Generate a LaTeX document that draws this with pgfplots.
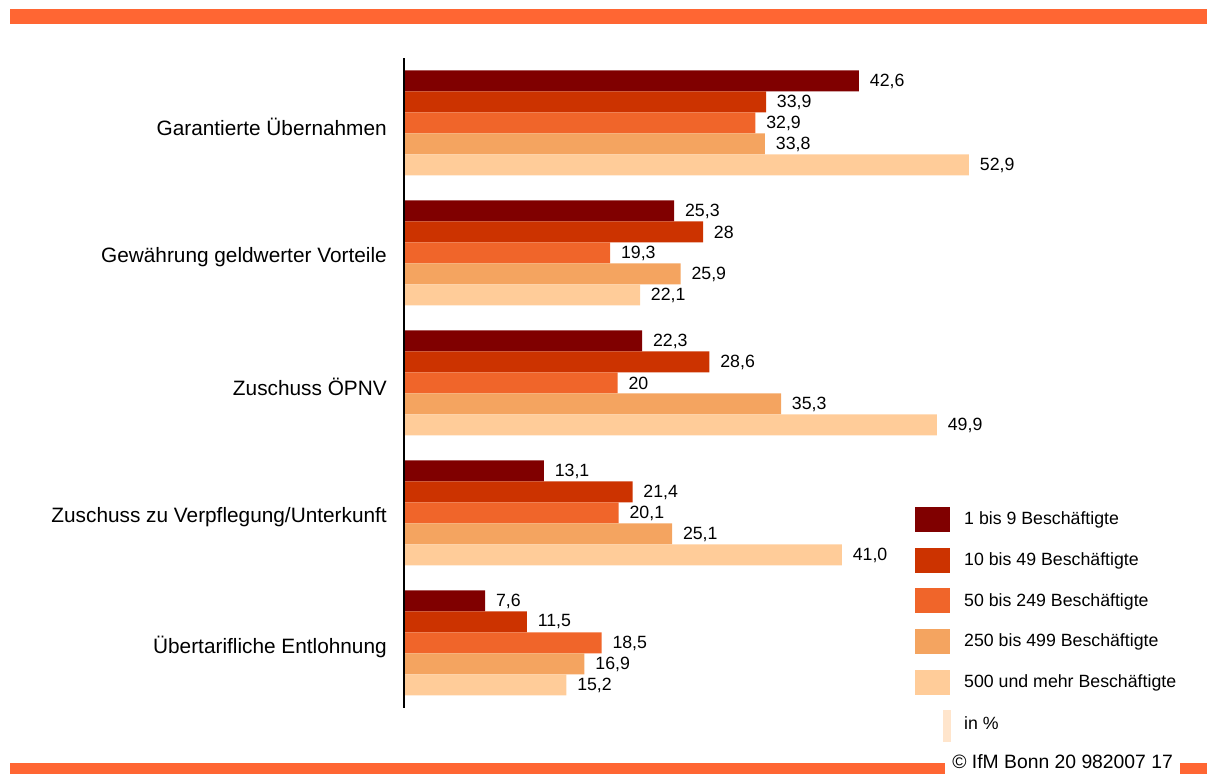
\documentclass[border=0pt]{standalone}
\usepackage{pgfplots}
\pgfplotsset{compat=1.18}
\usepackage{pgfplotstable}
\usepackage{fontspec}
\setmainfont{Liberation Sans}
\definecolor{cA}{HTML}{800000}
\definecolor{cB}{HTML}{CC3300}
\definecolor{cC}{HTML}{F0652A}
\definecolor{cD}{HTML}{F4A460}
\definecolor{cE}{HTML}{FFCC99}
\definecolor{cIn}{HTML}{FFE5CC}
\definecolor{band}{HTML}{FF6633}
\pgfplotstableread{
y v1 l1 v2 l2 v3 l3 v4 l4 v5 l5
4 42.6 42,6 33.9 33,9 32.9 32,9 33.8 33,8 52.9 52,9
3 25.3 25,3 28 28 19.3 19,3 25.9 25,9 22.1 22,1
2 22.3 22,3 28.6 28,6 20 20 35.3 35,3 49.9 49,9
1 13.1 13,1 21.4 21,4 20.1 20,1 25.1 25,1 41.0 41,0
0 7.6 7,6 11.5 11,5 18.5 18,5 16.9 16,9 15.2 15,2
}\datatable
\begin{document}
\begin{tikzpicture}
\path[use as bounding box] (0,0) rectangle (905.25pt,580.5pt);
\begin{scope}[x=0.75pt,y=-0.75pt,shift={(0pt,580.5pt)}]
\fill[band] (10,9) rectangle (1207,24);
\fill[band] (10,763) rectangle (945,774);
\fill[band] (1180,763) rectangle (1207,774);
\node[anchor=base west, inner sep=0pt, font=\fontsize{14.5}{17}\selectfont] at (952,769) {© IfM Bonn 20 982007 17};
\end{scope}
\begin{axis}[
  at={(303pt,49.5pt)}, anchor=south west, scale only axis,
  width=480.6pt, height=487.5pt,
  xmin=0, xmax=60, ymin=-0.5, ymax=4.5,
  axis on top,
  axis x line=none, axis y line=left,
  axis line style={-, black, line width=1.2pt},
  ytick={0,1,2,3,4},
  yticklabels={Übertarifliche Entlohnung, Zuschuss zu Verpflegung/Unterkunft, Zuschuss ÖPNV, Gewährung geldwerter Vorteile, Garantierte Übernahmen},
  major tick length=0pt,
  yticklabel style={font=\fontsize{15.6}{18}\selectfont, inner sep=0pt, xshift=-12.75pt, yshift=-3pt},
  xbar, bar width=15.75pt,
  point meta=explicit symbolic,
  nodes near coords={\pgfplotspointmeta},
  every node near coord/.append style={font=\fontsize{13.3}{16}\selectfont, anchor=west, inner sep=0pt, xshift=8pt},
  legend image code/.code={\fill[#1] (0pt,-9.4pt) rectangle (26.25pt,9.4pt);},
  legend cell align=left,
  legend style={draw=none, fill=none, at={(axis description cs:0.7974,0.3092)}, anchor=north west,
    inner sep=0pt, outer sep=0pt, row sep=11.7pt, font=\fontsize{13.3}{16}\selectfont,
    nodes={inner sep=0pt}, /tikz/every odd column/.append style={column sep=10.5pt}},
]
\addplot[fill=cA, draw=none, bar shift=31.5pt] table[x=v1, y=y, meta=l1] {\datatable};
\addplot[fill=cB, draw=none, bar shift=15.75pt] table[x=v2, y=y, meta=l2] {\datatable};
\addplot[fill=cC, draw=none, bar shift=0pt] table[x=v3, y=y, meta=l3] {\datatable};
\addplot[fill=cD, draw=none, bar shift=-15.75pt] table[x=v4, y=y, meta=l4] {\datatable};
\addplot[fill=cE, draw=none, bar shift=-31.5pt] table[x=v5, y=y, meta=l5] {\datatable};
\addlegendimage{legend image code/.code={\fill[cIn] (21pt,-13.5pt) rectangle (26.25pt,9.75pt);}}
\legend{1 bis 9 Beschäftigte, 10 bis 49 Beschäftigte, 50 bis 249 Beschäftigte, 250 bis 499 Beschäftigte, 500 und mehr Beschäftigte, in \%}
\end{axis}
\end{tikzpicture}
\end{document}
